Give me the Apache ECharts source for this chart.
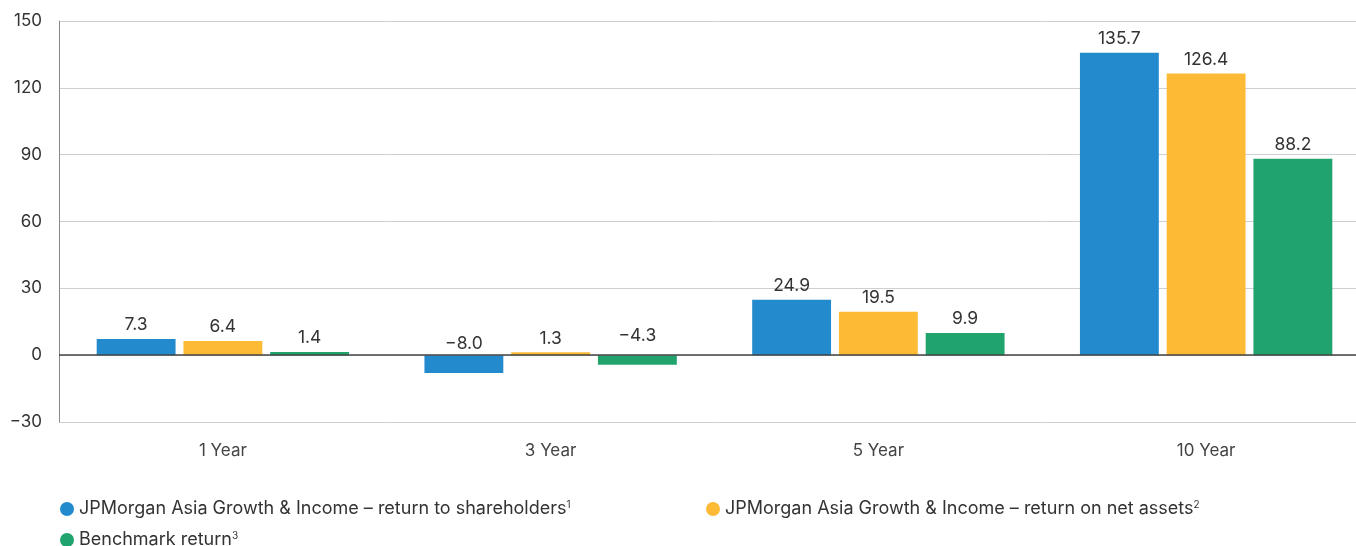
<!DOCTYPE html>
<html><head><meta charset="utf-8">
<script src="https://cdn.jsdelivr.net/npm/echarts@6/dist/echarts.min.js"></script>
<style>html,body{margin:0;padding:0;background:#fff;overflow:hidden;width:1356px;height:546px}#c{width:1370px;height:546px}</style>
</head><body><div id="c"></div>
<script>
const categories = ['1 Year', '3 Year', '5 Year', '10 Year'];
const shareholders = [7.3, -8.0, 24.9, 135.7];
const netAssets = [6.4, 1.3, 19.5, 126.4];
const benchmark = [1.4, -4.3, 9.9, 88.2];
const seriesNames = [
  'JPMorgan Asia Growth & Income – return to shareholders',
  'JPMorgan Asia Growth & Income – return on net assets',
  'Benchmark return'
];
const sups = ['1', '2', '3'];
const colors = ['#228ACD', '#FDBA34', '#20A36D'];
const FONT = 'Inter, "Noto Sans", sans-serif';

function fmt(v) { return (v < 0 ? '\u2212' + Math.abs(v).toFixed(1) : v.toFixed(1)); }

function mk(name, vals, color) {
  return {
    name, type: 'bar', barGap: '10%', barCategoryGap: '23%',
    itemStyle: { color },
    data: vals.map(v => ({
      value: v,
      label: v < 0 ? { position: 'insideBottom', offset: [0, -15] } : undefined
    })),
    label: {
      show: true, position: 'top', distance: 5,
      fontFamily: FONT, fontSize: 17.5, color: '#333',
      formatter: p => fmt(p.value)
    }
  };
}

const legendRich = {
  t: { fontFamily: FONT, fontSize: 18, color: '#333' },
  s: { fontFamily: FONT, fontSize: 10, color: '#333', verticalAlign: 'top', padding: [0, 0, 8, 0] }
};
function legendFmt(n) { return '{t|' + n + '}{s|' + sups[seriesNames.indexOf(n)] + '}'; }
function lg(i, left, top) {
  return {
    data: [seriesNames[i]], left, top, icon: 'circle', itemWidth: 14, itemHeight: 14,
    itemGap: 0, formatter: legendFmt, textStyle: { rich: legendRich }, selectedMode: false
  };
}

const chart = echarts.init(document.getElementById('c'));
chart.setOption({
  animation: false,
  textStyle: { fontFamily: FONT },
  legend: [lg(0, 55, 495), lg(1, 701, 495), lg(2, 55, 526)],
  grid: { left: 59, right: 0, top: 21, bottom: 124, containLabel: false },
  xAxis: {
    type: 'category', data: categories,
    axisLine: { show: false }, axisTick: { show: false },
    axisLabel: { fontFamily: FONT, fontSize: 17, color: '#444', margin: 20 }
  },
  yAxis: {
    type: 'value', min: -30, max: 150, interval: 30,
    axisLine: { show: true, lineStyle: { color: '#8a8a8a', width: 1 } },
    axisTick: { show: false },
    splitLine: { lineStyle: { color: '#cfcfcf', width: 1 } },
    axisLabel: {
      fontFamily: FONT, fontSize: 17, color: '#333', margin: 17,
      formatter: v => (v < 0 ? '\u2212' + Math.abs(v) : String(v))
    }
  },
  series: [
    mk(seriesNames[0], shareholders, colors[0]),
    mk(seriesNames[1], netAssets, colors[1]),
    Object.assign(mk(seriesNames[2], benchmark, colors[2]), {
      markLine: {
        silent: true, symbol: 'none', label: { show: false },
        lineStyle: { color: '#444', width: 1.5, type: 'solid' },
        data: [{ yAxis: 0 }]
      }
    })
  ]
});
</script></body></html>
